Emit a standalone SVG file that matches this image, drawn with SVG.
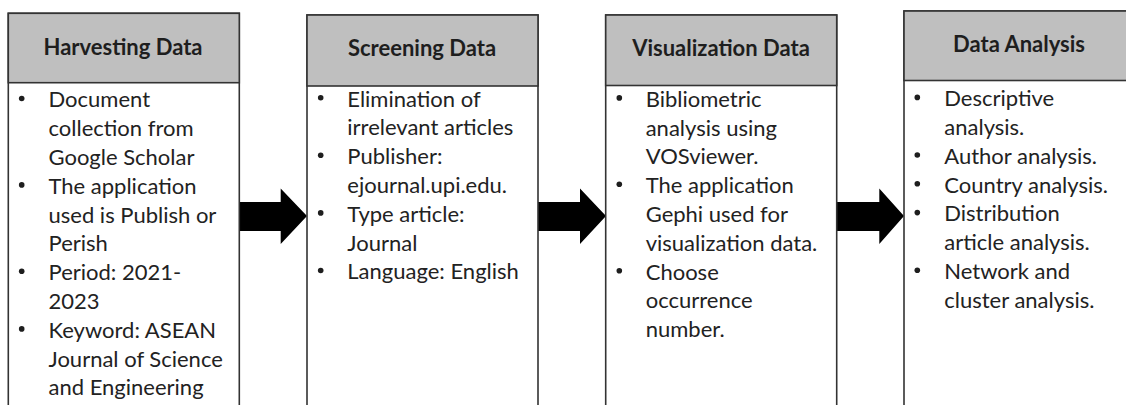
<svg xmlns="http://www.w3.org/2000/svg" width="1126" height="405" viewBox="0 0 1126 405">
  <style>
    .box { fill: #ffffff; stroke: #333333; stroke-width: 1.6; }
    .head { fill: #bfbfbf; stroke: #333333; stroke-width: 1.6; }
    .title { font-family: Lato, "Liberation Sans", sans-serif; font-weight: bold; font-size: 22px; fill: #1e1e1e; text-anchor: middle; }
    .body { font-family: Lato, "Liberation Sans", sans-serif; font-size: 22px; fill: #222222; }
    .dot { fill: #1e1e1e; }
    .arrow { fill: #000000; }
  </style>
  <rect width="1126" height="405" fill="#ffffff"/>

  <g id="connectors">
    <path class="arrow" d="M239,202 H280.7 V188.5 L307,216 L280.7,244 V231 H239 Z"/>
    <path class="arrow" d="M538,202 H580 V188.5 L606,216 L580,244 V231 H538 Z"/>
    <path class="arrow" d="M837,202 H879.3 V188.5 L904,216 L879.3,244 V231 H837 Z"/>
  </g>

  <g id="harvesting">
    <rect class="box" x="8.3" y="13.3" width="231" height="420"/>
    <rect class="head" x="8.3" y="13.3" width="231" height="69.4"/>
    <text class="title" x="123" y="55">Harvesting Data</text>
    <circle class="dot" cx="21.7" cy="98.5" r="2.8"/>
    <circle class="dot" cx="21.7" cy="184.9" r="2.8"/>
    <circle class="dot" cx="21.7" cy="271.3" r="2.8"/>
    <circle class="dot" cx="21.7" cy="328.9" r="2.8"/>
    <text class="body">
      <tspan x="48.5" y="107.3">Document</tspan>
      <tspan x="48.5" y="136.1">collection from</tspan>
      <tspan x="48.5" y="164.9">Google Scholar</tspan>
      <tspan x="48.5" y="193.7">The application</tspan>
      <tspan x="48.5" y="222.5">used is Publish or</tspan>
      <tspan x="48.5" y="251.3">Perish</tspan>
      <tspan x="48.5" y="280.1">Period: 2021-</tspan>
      <tspan x="48.5" y="308.9">2023</tspan>
      <tspan x="48.5" y="337.7">Keyword: ASEAN</tspan>
      <tspan x="48.5" y="366.5">Journal of Science</tspan>
      <tspan x="48.5" y="395.3">and Engineering</tspan>
    </text>
  </g>

  <g id="screening">
    <rect class="box" x="307" y="15" width="231" height="420"/>
    <rect class="head" x="307" y="15" width="231" height="71"/>
    <text class="title" x="422" y="56">Screening Data</text>
    <circle class="dot" cx="320.7" cy="97.7" r="2.8"/>
    <circle class="dot" cx="320.7" cy="155.3" r="2.8"/>
    <circle class="dot" cx="320.7" cy="212.9" r="2.8"/>
    <circle class="dot" cx="320.7" cy="270.5" r="2.8"/>
    <text class="body">
      <tspan x="347.3" y="106.5">Elimination of</tspan>
      <tspan x="347.3" y="135.3">irrelevant articles</tspan>
      <tspan x="347.3" y="164.1">Publisher:</tspan>
      <tspan x="347.3" y="192.9">ejournal.upi.edu.</tspan>
      <tspan x="347.3" y="221.7">Type article:</tspan>
      <tspan x="347.3" y="250.5">Journal</tspan>
      <tspan x="347.3" y="279.3">Language: English</tspan>
    </text>
  </g>

  <g id="visualization">
    <rect class="box" x="605.7" y="15" width="231" height="420"/>
    <rect class="head" x="605.7" y="15" width="231" height="70.5"/>
    <text class="title" x="721" y="56">Visualization Data</text>
    <circle class="dot" cx="619.3" cy="97.9" r="2.8"/>
    <circle class="dot" cx="619.3" cy="184.3" r="2.8"/>
    <circle class="dot" cx="619.3" cy="270.7" r="2.8"/>
    <text class="body">
      <tspan x="645.7" y="106.7">Bibliometric</tspan>
      <tspan x="645.7" y="135.5">analysis using</tspan>
      <tspan x="645.7" y="164.3">VOSviewer.</tspan>
      <tspan x="645.7" y="193.1">The application</tspan>
      <tspan x="645.7" y="221.9">Gephi used for</tspan>
      <tspan x="645.7" y="250.7">visualization data.</tspan>
      <tspan x="645.7" y="279.5">Choose</tspan>
      <tspan x="645.7" y="308.3">occurrence</tspan>
      <tspan x="645.7" y="337.1">number.</tspan>
    </text>
  </g>

  <g id="analysis">
    <rect class="box" x="904" y="11" width="230" height="420"/>
    <rect class="head" x="904" y="11" width="230" height="69.5"/>
    <text class="title" x="1019" y="52">Data Analysis</text>
    <circle class="dot" cx="917.3" cy="97.4" r="2.8"/>
    <circle class="dot" cx="917.3" cy="155" r="2.8"/>
    <circle class="dot" cx="917.3" cy="183.8" r="2.8"/>
    <circle class="dot" cx="917.3" cy="212.6" r="2.8"/>
    <circle class="dot" cx="917.3" cy="270.2" r="2.8"/>
    <text class="body">
      <tspan x="944.3" y="106.2">Descriptive</tspan>
      <tspan x="944.3" y="135">analysis.</tspan>
      <tspan x="944.3" y="163.8">Author analysis.</tspan>
      <tspan x="944.3" y="192.6">Country analysis.</tspan>
      <tspan x="944.3" y="221.4">Distribution</tspan>
      <tspan x="944.3" y="250.2">article analysis.</tspan>
      <tspan x="944.3" y="279">Network and</tspan>
      <tspan x="944.3" y="307.8">cluster analysis.</tspan>
    </text>
  </g>
</svg>
